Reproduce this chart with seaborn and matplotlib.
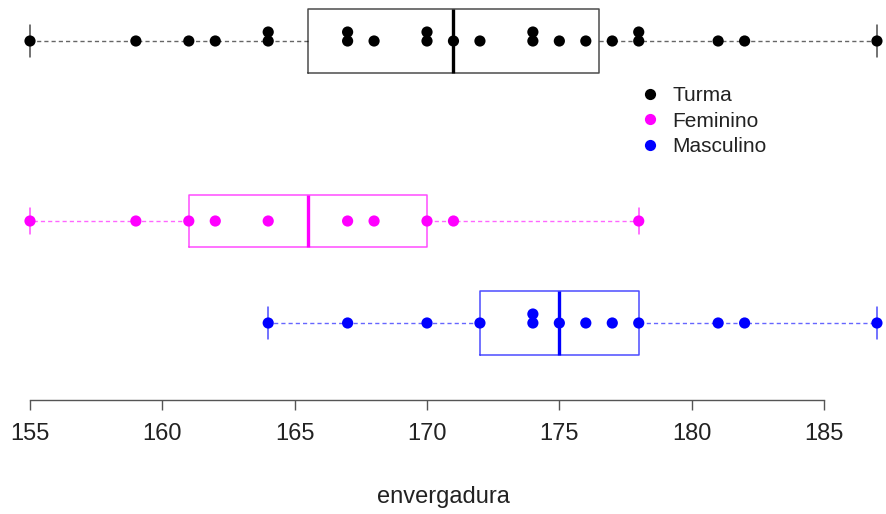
import math
import numpy as np
import pandas as pd
import matplotlib
matplotlib.use("Agg")
import matplotlib.pyplot as plt
import seaborn as sns

# ---- data ----
groups = ["Turma", "Feminino", "Masculino"]
turma = [155, 159, 161, 162, 164, 164, 167, 167, 168, 170, 170, 171,
         172, 174, 174, 175, 176, 177, 178, 178, 181, 182, 187]
feminino = [155, 159, 161, 162, 164, 167, 168, 170, 171, 178]
masculino = [164, 167, 170, 172, 174, 174, 175, 176, 177, 178, 181, 182, 187]
x_ticks = [155, 160, 165, 170, 175, 180, 185]
x_label = "envergadura"

values = {"Turma": turma, "Feminino": feminino, "Masculino": masculino}

# ---- style / layout ----
colors = {"Turma": "#000000", "Feminino": "#FF00FF", "Masculino": "#0000FF"}
positions = {"Turma": 3.765, "Feminino": 2.0, "Masculino": 1.0}
box_widths = {"Turma": 0.627, "Feminino": 0.51, "Masculino": 0.627}
stack_step = 0.088

sns.set_theme(style="white")
plt.rcParams["font.family"] = ["Liberation Sans", "DejaVu Sans"]


def fivenum(v):
    x = sorted(v)
    n = len(x)
    n4 = math.floor((n + 3) / 2) / 2
    d = [1, n4, (n + 1) / 2, n + 1 - n4, n]
    return [0.5 * (x[math.floor(di) - 1] + x[math.ceil(di) - 1]) for di in d]


fig = plt.figure(figsize=(8.86, 5.14), dpi=100)
ax = fig.add_axes([0, 114 / 514, 1, 400 / 514])

for g in groups:
    lo, q1, med, q3, hi = fivenum(values[g])
    c = colors[g]
    w = box_widths[g]
    stats = [dict(med=med, q1=q1, q3=q3, whislo=lo, whishi=hi, fliers=[])]
    ax.bxp(stats, positions=[positions[g]], widths=[w], orientation="horizontal",
           showfliers=False, capwidths=[w / 2], manage_ticks=False,
           boxprops=dict(color=c, lw=1.1, alpha=0.7),
           whiskerprops=dict(color=c, lw=1.0, linestyle=(0, (3, 2.2)), alpha=0.6),
           capprops=dict(color=c, lw=1.1, alpha=0.7),
           medianprops=dict(color=c, lw=2.4))

# stacked strip points
rows = []
for g in groups:
    seen = {}
    for v in values[g]:
        k = seen.get(v, 0)
        seen[v] = k + 1
        rows.append(dict(grupo=g, envergadura=v, ypos=positions[g] + k * stack_step))
df = pd.DataFrame(rows)

sns.scatterplot(data=df, x="envergadura", y="ypos", hue="grupo", hue_order=groups,
                palette=colors, s=65, edgecolor="none", linewidth=0, ax=ax, zorder=3)

handles, labels = ax.get_legend_handles_labels()
ax.legend(handles, labels, loc="upper left",
          bbox_to_anchor=(640 / 886, 1 - 86 / 514), bbox_transform=fig.transFigure,
          frameon=False, fontsize=15, handlelength=1.0, handletextpad=0.54,
          labelspacing=0.32, borderpad=0, borderaxespad=0, labelcolor="#222222")

ax.set_xlim(153.8665, 187.342)
ax.set_ylim(0.245, 4.167)
for s in ["left", "top", "right"]:
    ax.spines[s].set_visible(False)
ax.spines["bottom"].set_bounds(x_ticks[0], x_ticks[-1])
ax.spines["bottom"].set_color("#555555")
ax.spines["bottom"].set_linewidth(1.0)
ax.set_xticks(x_ticks)
ax.set_xticklabels([str(t) for t in x_ticks])
ax.tick_params(axis="x", bottom=True, length=7.2, width=1.0, color="#555555",
               labelsize=17, pad=9, labelcolor="#222222")
ax.set_yticks([])
ax.set_ylabel("")
ax.set_xlabel(x_label, fontsize=17, labelpad=30, color="#222222")

fig.savefig("out.png", dpi=100)
